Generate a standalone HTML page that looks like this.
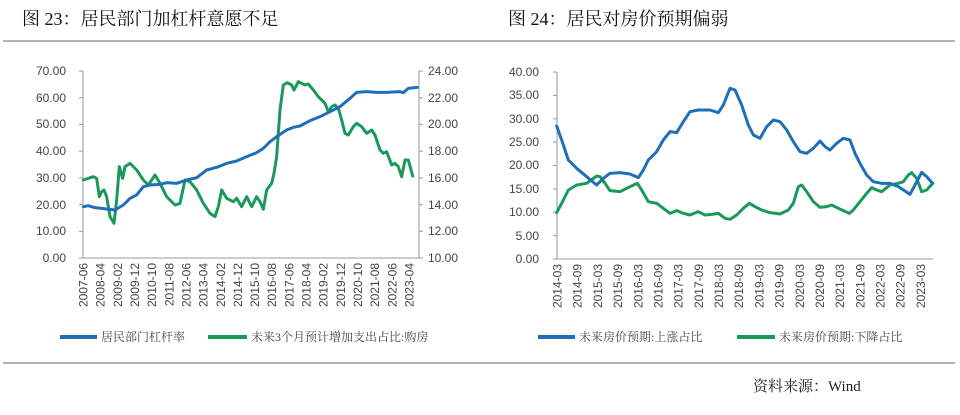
<!DOCTYPE html>
<html><head><meta charset="utf-8"><style>
html,body{margin:0;padding:0;background:#fff;}
svg{display:block;}
text{font-family:"Liberation Sans","Noto Sans CJK SC",sans-serif;fill:#333;}
.t{font-family:"Liberation Serif","Noto Serif CJK SC",serif;font-size:18px;fill:#111;}
.k{font-size:12px;fill:#444;}
.lg{font-family:"Liberation Serif","Noto Serif CJK SC",serif;font-size:12px;fill:#444;}
</style></head><body>
<svg width="960" height="415" viewBox="0 0 960 415" xmlns="http://www.w3.org/2000/svg">
<text class="t" x="22" y="25">图 23：居民部门加杠杆意愿不足</text>
<text class="t" x="508" y="25">图 24：居民对房价预期偏弱</text>
<line x1="3" y1="41" x2="955" y2="41" stroke="#999" stroke-width="1.5"/>
<line x1="3" y1="363" x2="955" y2="363" stroke="#999" stroke-width="1.5"/>
<text x="753" y="391" style="font-family:'Liberation Serif','Noto Serif CJK SC',serif;font-size:15px;fill:#222">资料来源：Wind</text>

<!-- LEFT CHART axes -->
<g stroke="#999" stroke-width="1">
<line x1="83" y1="71" x2="83" y2="258"/>
<line x1="83" y1="258" x2="419" y2="258"/>
<line x1="419" y1="71" x2="419" y2="258"/>
<line x1="79" y1="71" x2="83" y2="71"/><line x1="79" y1="97.7" x2="83" y2="97.7"/><line x1="79" y1="124.4" x2="83" y2="124.4"/><line x1="79" y1="151.1" x2="83" y2="151.1"/><line x1="79" y1="177.9" x2="83" y2="177.9"/><line x1="79" y1="204.6" x2="83" y2="204.6"/><line x1="79" y1="231.3" x2="83" y2="231.3"/><line x1="79" y1="258" x2="83" y2="258"/>
<line x1="419" y1="71" x2="423" y2="71"/><line x1="419" y1="97.7" x2="423" y2="97.7"/><line x1="419" y1="124.4" x2="423" y2="124.4"/><line x1="419" y1="151.1" x2="423" y2="151.1"/><line x1="419" y1="177.9" x2="423" y2="177.9"/><line x1="419" y1="204.6" x2="423" y2="204.6"/><line x1="419" y1="231.3" x2="423" y2="231.3"/><line x1="419" y1="258" x2="423" y2="258"/>
</g>
<g text-anchor="end">
<text class="k" x="66" y="75">70.00</text><text class="k" x="66" y="102">60.00</text><text class="k" x="66" y="128">50.00</text><text class="k" x="66" y="155">40.00</text><text class="k" x="66" y="182">30.00</text><text class="k" x="66" y="209">20.00</text><text class="k" x="66" y="235">10.00</text><text class="k" x="66" y="262">0.00</text>
</g>
<g>
<text class="k" x="428" y="75">24.00</text><text class="k" x="428" y="102">22.00</text><text class="k" x="428" y="128">20.00</text><text class="k" x="428" y="155">18.00</text><text class="k" x="428" y="182">16.00</text><text class="k" x="428" y="209">14.00</text><text class="k" x="428" y="235">12.00</text><text class="k" x="428" y="262">10.00</text>
</g>
<g text-anchor="end">
<text class="k" transform="translate(87.5,263) rotate(-90)">2007-06</text>
<text class="k" transform="translate(104.7,263) rotate(-90)">2008-04</text>
<text class="k" transform="translate(121.8,263) rotate(-90)">2009-02</text>
<text class="k" transform="translate(139.0,263) rotate(-90)">2009-12</text>
<text class="k" transform="translate(156.1,263) rotate(-90)">2010-10</text>
<text class="k" transform="translate(173.3,263) rotate(-90)">2011-08</text>
<text class="k" transform="translate(190.4,263) rotate(-90)">2012-06</text>
<text class="k" transform="translate(207.6,263) rotate(-90)">2013-04</text>
<text class="k" transform="translate(224.8,263) rotate(-90)">2014-02</text>
<text class="k" transform="translate(241.9,263) rotate(-90)">2014-12</text>
<text class="k" transform="translate(259.1,263) rotate(-90)">2015-10</text>
<text class="k" transform="translate(276.2,263) rotate(-90)">2016-08</text>
<text class="k" transform="translate(293.4,263) rotate(-90)">2017-06</text>
<text class="k" transform="translate(310.6,263) rotate(-90)">2018-04</text>
<text class="k" transform="translate(327.7,263) rotate(-90)">2019-02</text>
<text class="k" transform="translate(344.9,263) rotate(-90)">2019-12</text>
<text class="k" transform="translate(362.0,263) rotate(-90)">2020-10</text>
<text class="k" transform="translate(379.2,263) rotate(-90)">2021-08</text>
<text class="k" transform="translate(396.3,263) rotate(-90)">2022-06</text>
<text class="k" transform="translate(413.5,263) rotate(-90)">2023-04</text>
</g>
<g transform="translate(0,50) scale(0.33333)" fill="none" stroke-width="9" stroke-linejoin="round" stroke-linecap="round">
<polyline stroke="#1a9a5a" points="250,390 280,380 290,385 298,440 305,425 312,420 320,440 330,500 342,520 350,450 358,350 368,385 375,350 390,340 410,360 430,390 445,405 465,375 480,400 500,440 525,465 540,460 555,390 570,395 590,420 610,460 630,490 645,500 655,470 665,420 680,445 700,455 710,445 725,470 740,440 755,470 770,440 780,455 790,478 800,420 815,400 822,370 830,320 840,180 850,105 862,98 875,105 882,120 895,95 905,100 915,105 925,102 940,120 955,140 975,160 985,185 995,170 1005,165 1015,175 1025,210 1035,250 1045,255 1060,230 1070,220 1085,230 1100,250 1115,240 1125,255 1140,300 1150,310 1160,305 1175,345 1185,340 1195,350 1205,380 1215,330 1225,330 1238,378"/>
<polyline stroke="#1f6fb8" points="250,470 265,467 285,473 320,477 345,480 370,465 390,445 410,435 430,410 450,405 480,403 500,398 530,400 560,390 590,383 620,360 650,352 680,340 710,333 740,320 770,308 790,295 810,275 830,260 860,240 880,232 900,228 930,212 960,200 990,185 1020,170 1050,145 1070,127 1100,125 1130,127 1160,127 1200,125 1210,128 1225,115 1252,112"/>
</g>
<line x1="60" y1="337" x2="97" y2="337" stroke="#1f6fb8" stroke-width="4"/>
<text class="lg" x="101" y="341">居民部门杠杆率</text>
<line x1="208" y1="337" x2="247" y2="337" stroke="#1a9a5a" stroke-width="4"/>
<text class="lg" x="251" y="341">未来3个月预计增加支出占比:购房</text>

<!-- RIGHT CHART -->
<g stroke="#999" stroke-width="1">
<line x1="557" y1="72" x2="557" y2="259"/>
<line x1="557" y1="259" x2="933" y2="259"/>
<line x1="553" y1="72" x2="557" y2="72"/><line x1="553" y1="95.4" x2="557" y2="95.4"/><line x1="553" y1="118.8" x2="557" y2="118.8"/><line x1="553" y1="142.1" x2="557" y2="142.1"/><line x1="553" y1="165.5" x2="557" y2="165.5"/><line x1="553" y1="188.9" x2="557" y2="188.9"/><line x1="553" y1="212.3" x2="557" y2="212.3"/><line x1="553" y1="235.6" x2="557" y2="235.6"/><line x1="553" y1="259" x2="557" y2="259"/>
</g>
<g text-anchor="end">
<text class="k" x="539" y="76">40.00</text><text class="k" x="539" y="99">35.00</text><text class="k" x="539" y="123">30.00</text><text class="k" x="539" y="146">25.00</text><text class="k" x="539" y="169">20.00</text><text class="k" x="539" y="193">15.00</text><text class="k" x="539" y="216">10.00</text><text class="k" x="539" y="240">5.00</text><text class="k" x="539" y="263">0.00</text>
</g>
<g text-anchor="end">
<text class="k" transform="translate(561.5,264) rotate(-90)">2014-03</text>
<text class="k" transform="translate(581.7,264) rotate(-90)">2014-09</text>
<text class="k" transform="translate(601.9,264) rotate(-90)">2015-03</text>
<text class="k" transform="translate(622.1,264) rotate(-90)">2015-09</text>
<text class="k" transform="translate(642.3,264) rotate(-90)">2016-03</text>
<text class="k" transform="translate(662.5,264) rotate(-90)">2016-09</text>
<text class="k" transform="translate(682.6,264) rotate(-90)">2017-03</text>
<text class="k" transform="translate(702.8,264) rotate(-90)">2017-09</text>
<text class="k" transform="translate(723.0,264) rotate(-90)">2018-03</text>
<text class="k" transform="translate(743.2,264) rotate(-90)">2018-09</text>
<text class="k" transform="translate(763.4,264) rotate(-90)">2019-03</text>
<text class="k" transform="translate(783.6,264) rotate(-90)">2019-09</text>
<text class="k" transform="translate(803.8,264) rotate(-90)">2020-03</text>
<text class="k" transform="translate(824.0,264) rotate(-90)">2020-09</text>
<text class="k" transform="translate(844.2,264) rotate(-90)">2021-03</text>
<text class="k" transform="translate(864.4,264) rotate(-90)">2021-09</text>
<text class="k" transform="translate(884.5,264) rotate(-90)">2022-03</text>
<text class="k" transform="translate(904.7,264) rotate(-90)">2022-09</text>
<text class="k" transform="translate(924.9,264) rotate(-90)">2023-03</text>
</g>
<g transform="translate(490,50) scale(0.33333)" fill="none" stroke-width="9" stroke-linejoin="round" stroke-linecap="round">
<polyline stroke="#1a9a5a" points="200,488 215,460 235,420 260,405 290,400 320,378 330,380 345,400 360,422 390,425 420,410 442,400 455,420 475,455 500,460 520,475 540,490 560,482 580,490 600,495 625,485 645,495 665,493 685,490 705,505 720,508 740,495 760,475 778,460 795,470 815,480 840,488 870,492 895,480 910,460 925,410 935,405 950,425 970,455 990,472 1010,470 1025,465 1045,475 1060,482 1078,490 1090,480 1110,455 1130,430 1145,413 1160,420 1175,425 1200,405 1225,400 1240,395 1255,375 1265,368 1280,385 1295,425 1310,420 1328,400"/>
<polyline stroke="#1f6fb8" points="200,228 215,270 235,330 260,355 290,380 320,405 340,385 360,370 390,368 420,372 445,383 460,360 475,330 500,305 520,270 540,245 560,248 580,215 600,185 625,180 660,180 685,188 700,165 720,115 735,120 755,165 775,225 790,255 810,265 830,230 850,210 870,215 890,240 910,275 930,305 950,310 970,295 990,273 1005,290 1020,300 1040,280 1060,265 1080,270 1095,310 1110,340 1130,375 1150,395 1175,400 1200,400 1225,410 1245,423 1260,433 1275,405 1295,367 1310,380 1328,400"/>
</g>
<line x1="538" y1="337" x2="575" y2="337" stroke="#1f6fb8" stroke-width="4"/>
<text class="lg" x="579" y="341">未来房价预期:上涨占比</text>
<line x1="737" y1="337" x2="775" y2="337" stroke="#1a9a5a" stroke-width="4"/>
<text class="lg" x="779" y="341">未来房价预期:下降占比</text>
</svg>
</body></html>
